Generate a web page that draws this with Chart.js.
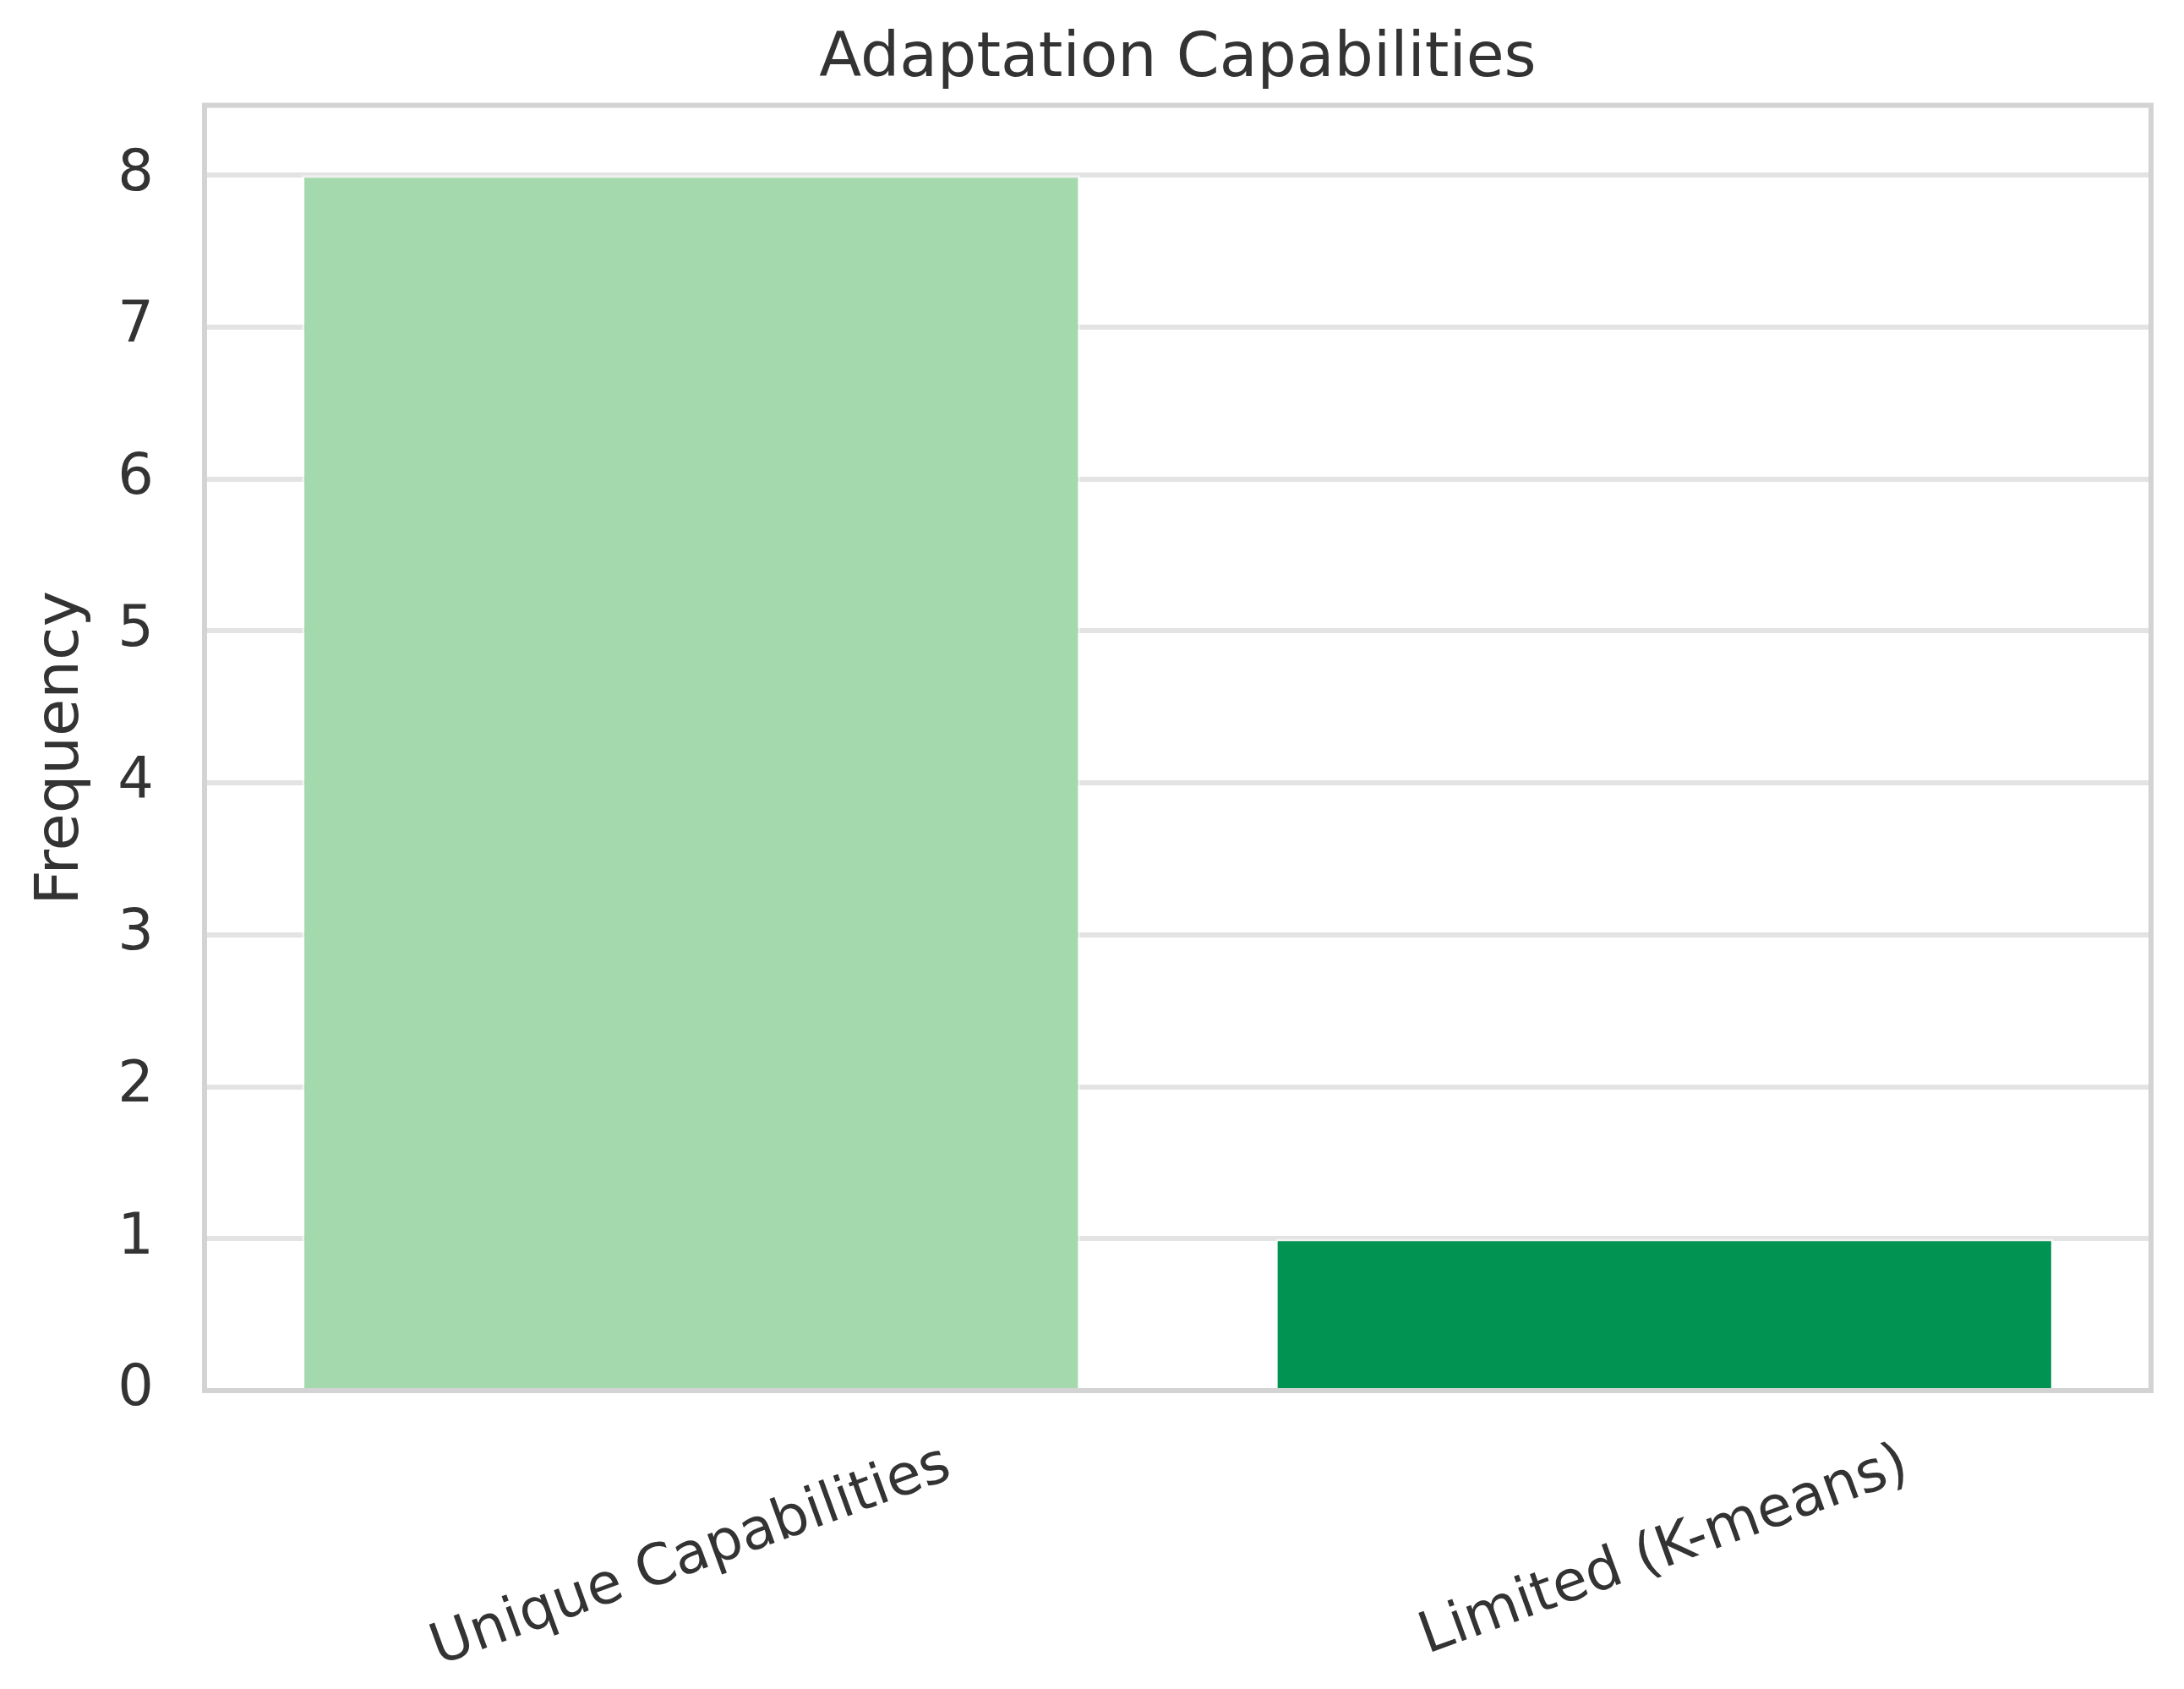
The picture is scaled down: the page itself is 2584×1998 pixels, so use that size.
<!DOCTYPE html>
<html>
<head>
<meta charset="utf-8">
<title>Adaptation Capabilities</title>
<script src="https://cdn.jsdelivr.net/npm/chart.js@4.4.1/dist/chart.umd.min.js"></script>
<style>
  html, body { margin: 0; padding: 0; background: #ffffff; }
  #wrap { width: 2584px; height: 1998px; }
</style>
</head>
<body>
<div id="wrap"><canvas id="adaptChart"></canvas></div>
<script>
const categories = ['Unique Capabilities', 'Limited (K-means)'];
const frequencies = [8, 1];
const barColors = ['#a4d8ad', '#009352'];
const yTicks = [0, 1, 2, 3, 4, 5, 6, 7, 8];
const yMax = 8.46;

const FONT = '"DejaVu Sans", "Liberation Sans", sans-serif';
const TEXT = '#333333';

// grey frame round the plot area, like the matplotlib spines
const frameBox = {
  id: 'frameBox',
  afterDatasetsDraw(chart) {
    const { ctx, chartArea: a } = chart;
    ctx.save();
    ctx.strokeStyle = '#d3d3d3';
    ctx.lineWidth = 6;
    ctx.strokeRect(a.left, a.top, a.right - a.left, a.bottom - a.top);
    ctx.restore();
  }
};

// x labels turned 20 degrees and centred under each bar
const slantedLabels = {
  id: 'slantedLabels',
  afterDraw(chart) {
    const { ctx, chartArea } = chart;
    const xScale = chart.scales.x;
    const angle = 20 * Math.PI / 180;
    const size = 67;
    ctx.save();
    ctx.font = `${size}px ${FONT}`;
    ctx.fillStyle = TEXT;
    ctx.textAlign = 'center';
    ctx.textBaseline = 'middle';
    categories.forEach((label, i) => {
      const w = ctx.measureText(label).width;
      const boxH = w * Math.sin(angle) + size * 1.16 * Math.cos(angle);
      const x = xScale.getPixelForValue(i);
      const y = chartArea.bottom + 50 + boxH / 2;
      ctx.save();
      ctx.translate(x, y);
      ctx.rotate(-angle);
      ctx.fillText(label, 0, 0);
      ctx.restore();
    });
    ctx.restore();
  }
};

new Chart(document.getElementById('adaptChart'), {
  type: 'bar',
  data: {
    labels: categories,
    datasets: [
      {
        label: 'Frequency',
        data: frequencies,
        backgroundColor: barColors,
        borderColor: 'rgba(255,255,255,0.45)',
        borderWidth: 3,
        barPercentage: 0.8,
        categoryPercentage: 1.0,
      },
    ],
  },
  options: {
    responsive: true,
    maintainAspectRatio: false,
    devicePixelRatio: 1,
    animation: false,
    layout: {
      padding: { top: 0, right: 39, bottom: 0, left: 0 },
    },
    plugins: {
      legend: { display: false },
      tooltip: { enabled: false },
      title: {
        display: true,
        fullSize: false,
        text: 'Adaptation Capabilities',
        color: TEXT,
        font: { family: FONT, size: 73, weight: 'normal', lineHeight: 1.2 },
        padding: { top: 27, bottom: 10 },
      },
    },
    scales: {
      x: {
        grid: { display: false },
        border: { display: false },
        ticks: { display: false },
        afterFit(scale) {
          scale.height = 353;
        },
      },
      y: {
        min: 0,
        max: yMax,
        afterBuildTicks(scale) {
          scale.ticks = yTicks.map(v => ({ value: v }));
        },
        grid: {
          color: '#e3e3e3',
          lineWidth: 6,
          drawTicks: false,
        },
        border: { display: false },
        ticks: {
          color: TEXT,
          padding: 60,
          font: { family: FONT, size: 67 },
        },
        title: {
          display: true,
          text: 'Frequency',
          color: TEXT,
          font: { family: FONT, size: 72, lineHeight: 1.2 },
          padding: { top: 30, bottom: 0 },
        },
        afterFit(scale) {
          scale.width = 242;
        },
      },
    },
  },
  plugins: [frameBox, slantedLabels],
});
</script>
</body>
</html>
